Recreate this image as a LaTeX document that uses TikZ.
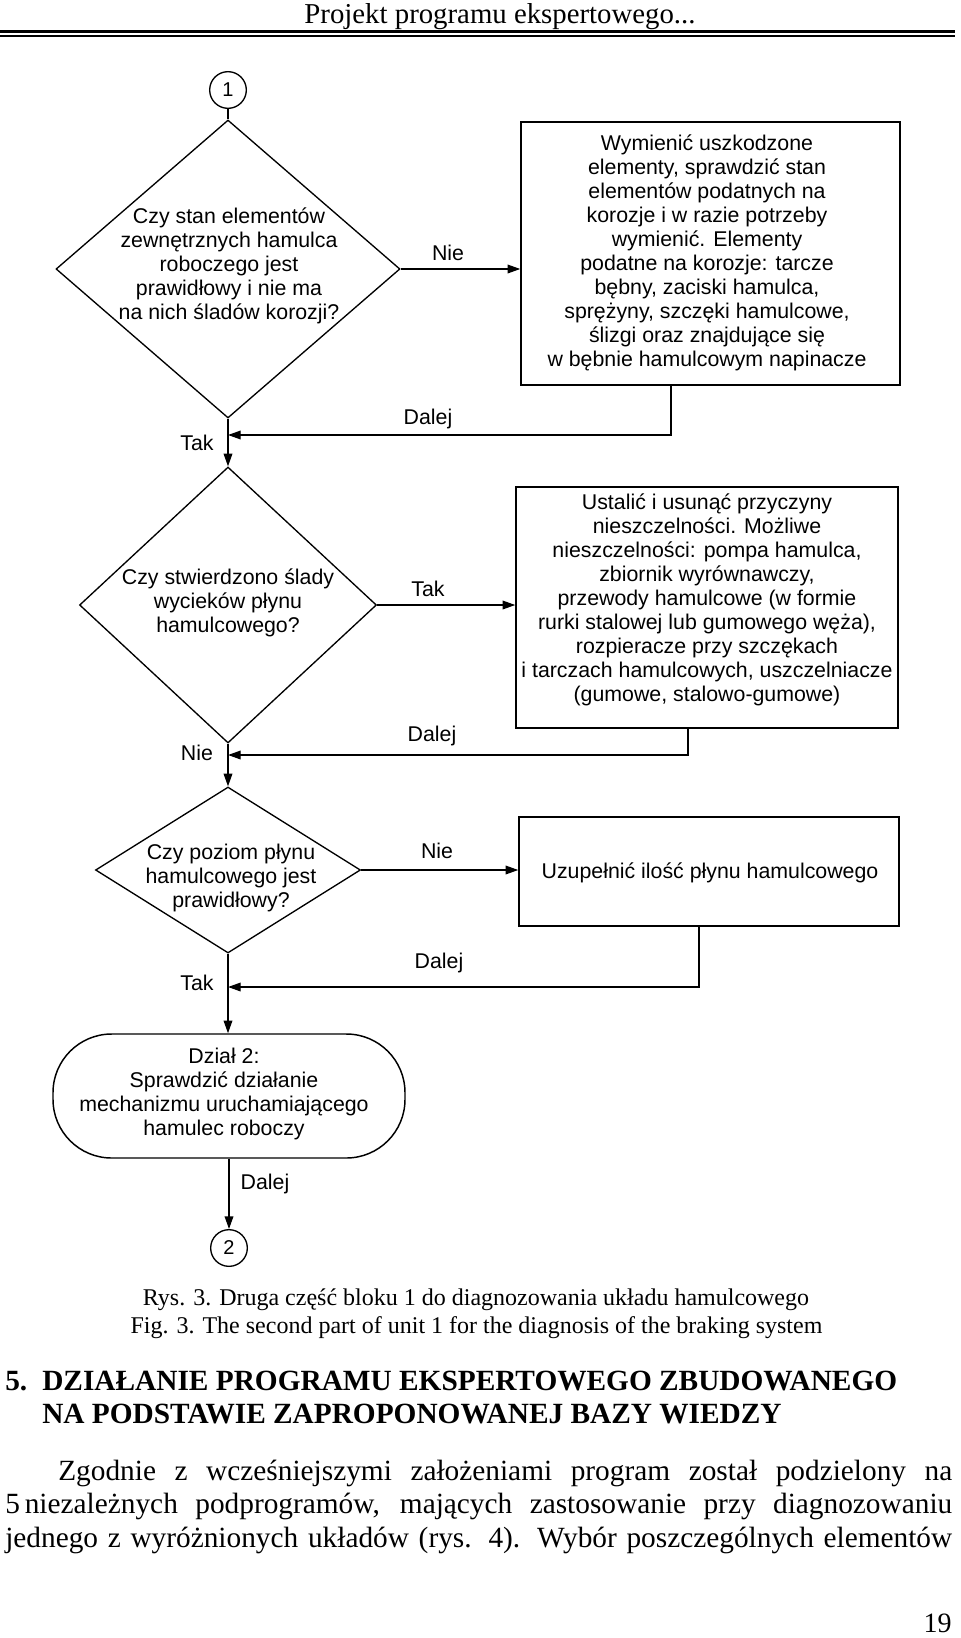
\documentclass[tikz,border=0pt]{standalone}
\usepackage{fontspec}
\setmainfont{Liberation Serif}
\newfontfamily\arialf{Liberation Sans}
\usetikzlibrary{shapes.geometric,arrows.meta}
\begin{document}
\begin{tikzpicture}[x=0.75pt,y=-0.75pt,
  every node/.style={inner sep=0pt},
  diag/.style={font=\arialf\fontsize{16pt}{18pt}\selectfont, align=center},
  lbl/.style={font=\arialf\fontsize{16pt}{18pt}\selectfont},
  decision/.style={draw, diamond, line width=1pt},
  proc/.style={draw, rectangle, line width=1.1pt},
  conn/.style={draw, circle, line width=1pt, minimum size=27.5pt, font=\arialf\fontsize{15pt}{17pt}\selectfont},
  term/.style={draw, rectangle, rounded corners=44pt, line width=1.1pt},
  flow/.style={line width=1pt, -{Triangle[length=9.5pt,width=6.5pt]}},
  plain/.style={line width=1pt},
  serif/.style={font=\fontsize{#1}{#1}\selectfont},
  bserif/.style={font=\fontsize{#1}{#1}\selectfont\bfseries}
]
\useasboundingbox (0,0) rectangle (960,1638);

% page header
\node[serif=21.6pt, anchor=base] (hdr) at (500,23) {Projekt programu ekspertowego...};
\coordinate (hl) at (0,31.3);
\coordinate (hr) at (955,31.3);
\draw[line width=2.6pt] (hl) -- (hr);
\coordinate (hl2) at (0,36);
\coordinate (hr2) at (955,36);
\draw[line width=1.1pt] (hl2) -- (hr2);

% connectors / circles
\node[conn] (c1) at (228,90) {1};
\node[conn] (c2) at (229,1248) {2};

% decisions
\node[decision, minimum width=258pt, minimum height=223.5pt] (d1) at (228,269) {};
\node[decision, minimum width=222.75pt, minimum height=207pt] (d2) at (228,605) {};
\node[decision, minimum width=198.75pt, minimum height=124.5pt] (d3) at (228,870) {};

\node[diag] (d1t) at (229,266) {Czy stan elementów\\zewnętrznych hamulca\\roboczego jest\\prawidłowy i nie ma\\na nich śladów korozji?};
\node[diag] (d2t) at (228,603) {Czy stwierdzono ślady\\wycieków płynu\\hamulcowego?};
\node[diag] (d3t) at (231,878) {Czy poziom płynu\\hamulcowego jest\\prawidłowy?};

% process boxes
\node[proc, minimum width=284.25pt, minimum height=197.25pt] (b1) at (710.5,253.5) {};
\node[proc, minimum width=286.5pt, minimum height=180.75pt] (b2) at (707,607.5) {};
\node[proc, minimum width=285pt, minimum height=81.75pt] (b3) at (709,871.5) {};

\node[diag] (b1t) at (707,252.5) {Wymienić uszkodzone\\elementy, sprawdzić stan\\elementów podatnych na\\korozje i w razie potrzeby\\wymienić. Elementy\\podatne na korozje: tarcze\\bębny, zaciski hamulca,\\sprężyny, szczęki hamulcowe,\\ślizgi oraz znajdujące się\\w bębnie hamulcowym napinacze};
\node[diag] (b2t) at (707,600) {Ustalić i usunąć przyczyny\\nieszczelności. Możliwe\\nieszczelności: pompa hamulca,\\zbiornik wyrównawczy,\\przewody hamulcowe (w formie\\rurki stalowej lub gumowego węża),\\rozpieracze przy szczękach\\i tarczach hamulcowych, uszczelniacze\\(gumowe, stalowo-gumowe)};
\node[diag] (b3t) at (710,873) {Uzupełnić ilość płynu hamulcowego};

% terminal
\node[term, minimum width=264pt, minimum height=93pt] (t) at (229,1096) {};
\node[diag] (tt) at (224,1094) {Dział 2:\\Sprawdzić działanie\\mechanizmu uruchamiającego\\hamulec roboczy};

% main flow
\draw[plain] (c1.south) -- (d1.north);
\draw[flow] (d1.south) -- (d2.north);
\draw[flow] (d2.south) -- (d3.north);
\draw[flow] (d3.south) -- (t.north -| d3.south);
\draw[flow] (t.south -| c2.north) -- (c2.north);

% side branches
\draw[flow] (d1.east) -- (d1.east -| b1.west);
\draw[flow] (d2.east) -- (d2.east -| b2.west);
\draw[flow] (d3.east) -- (d3.east -| b3.west);

% returns
\coordinate (k1) at (671,435);
\coordinate (k2) at (688,755);
\coordinate (k3) at (699,987);
\draw[flow] (k1 |- b1.south) -- (k1) -- (k1 -| d1.south);
\draw[flow] (k2 |- b2.south) -- (k2) -- (k2 -| d2.south);
\draw[flow] (k3 |- b3.south) -- (k3) -- (k3 -| d3.south);

% labels
\node[lbl] (l1) at (448,253) {Nie};
\node[lbl] (l2) at (428,419) {Dalej};
\node[lbl] (l3) at (197,443) {Tak};
\node[lbl] (l4) at (428,589) {Tak};
\node[lbl] (l5) at (432,736) {Dalej};
\node[lbl] (l6) at (197,753) {Nie};
\node[lbl] (l7) at (437,851) {Nie};
\node[lbl] (l8) at (439,963) {Dalej};
\node[lbl] (l9) at (197,983) {Tak};
\node[lbl] (l10) at (265,1184) {Dalej};

% caption
\node[serif=18pt, anchor=base] (cap1) at (476,1305) {Rys. 3. Druga część bloku 1 do diagnozowania układu hamulcowego};
\node[serif=18pt, anchor=base] (cap2) at (476.5,1333) {Fig. 3. The second part of unit 1 for the diagnosis of the braking system};

% section heading
\node[bserif=22pt, anchor=base west] (h5) at (5,1390) {5.};
\node[bserif=22pt, anchor=base west] (h1) at (42,1390) {DZIAŁANIE PROGRAMU EKSPERTOWEGO ZBUDOWANEGO};
\node[bserif=22pt, anchor=base west] (h2) at (42,1423) {NA PODSTAWIE ZAPROPONOWANEJ BAZY WIEDZY};

% paragraph
\node[serif=22pt, anchor=base west] (p1) at (58,1480) {\makebox[670.5pt][s]{Zgodnie z wcześniejszymi założeniami program został podzielony na}};
\node[serif=22pt, anchor=base west] (p2) at (5,1513) {\makebox[710.25pt][s]{5\,niezależnych podprogramów, mających zastosowanie przy diagnozowaniu}};
\node[serif=22pt, anchor=base west] (p3) at (5,1547) {\makebox[710.25pt][s]{jednego z wyróżnionych układów (rys. 4). Wybór poszczególnych elementów}};

% page number
\node[serif=21pt, anchor=base east] (pg) at (952,1632) {19};
\end{tikzpicture}
\end{document}
